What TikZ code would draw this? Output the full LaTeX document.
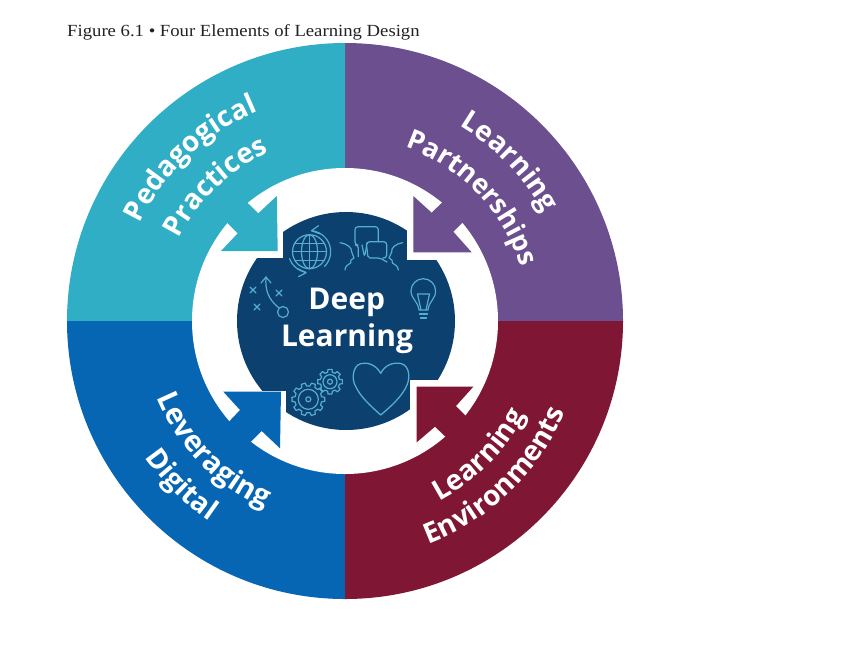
\documentclass[tikz,border=0pt]{standalone}
\usepackage{fontspec}
\setmainfont{Liberation Serif}
\setsansfont{Open Sans}
\usetikzlibrary{decorations.text}
\definecolor{cTeal}{HTML}{30AEC6}
\definecolor{cPurple}{HTML}{6B4F8F}
\definecolor{cBlue}{HTML}{0766B4}
\definecolor{cMaroon}{HTML}{7F1633}
\definecolor{cNavy}{HTML}{0B406F}
\definecolor{cIcon}{HTML}{55AECF}
\definecolor{cTitle}{HTML}{222222}
\newcommand{\arcfont}[1]{\fontsize{#1}{#1}\selectfont\sffamily\bfseries}
\tikzset{
  icon/.style={draw=cIcon,line width=1.2pt,line join=round,line cap=round},
  centertext/.style={text=white,font=\fontsize{30}{30}\selectfont\sffamily\bfseries,anchor=base,inner sep=0pt},
  arctext/.style n args={2}{decorate,decoration={text along path,text color=white,text align=center,text={|\arcfont{#1}|#2}}},
}
\begin{document}
\begin{tikzpicture}[x=1pt,y=-1pt]
\useasboundingbox (0,0) rectangle (850,659);
\fill[white] (0,0) rectangle (850,659);
\node[anchor=base west,inner sep=0pt,text=cTitle,font=\fontsize{17}{17}\selectfont,xscale=1.1] (title) at (67,36.5) {Figure 6.1 • Four Elements of Learning Design};
\begin{scope}[shift={(345,321)},y=1pt]
  \fill[cPurple] (0,0) -- (0,278) arc[start angle=90,end angle=0,radius=278] -- cycle;
  \fill[cTeal] (0,0) -- (-278,0) arc[start angle=180,end angle=90,radius=278] -- cycle;
  \fill[cBlue] (0,0) -- (0,-278) arc[start angle=270,end angle=180,radius=278] -- cycle;
  \fill[cMaroon] (0,0) -- (278,0) arc[start angle=0,end angle=-90,radius=278] -- cycle;
  \fill[white] (0,0) circle[radius=153];
  \fill[cNavy] (1,0) circle[radius=109];
\end{scope}
% notches of the centre shape
\fill[white] (248,223) rectangle (283.3,258);
\fill[white] (406.7,225) rectangle (444,260);
\fill[white] (248,390.7) rectangle (286,420);
\fill[white] (410,380) rectangle (446,420);
% arrows
\fill[cTeal] (276.8,196) -- (277.7,251) -- (221,251) -- (237.7,233.3) -- (202,198) -- (222,178) -- (258.3,213.3) -- cycle;
\fill[cPurple] (413.3,196) -- (413.3,252.3) -- (471.7,252.3) -- (453.3,231.7) -- (488,197) -- (468,177) -- (431.7,212.7) -- cycle;
\fill[cBlue] (223.3,391.7) -- (281,391.7) -- (280,448.3) -- (261.7,431) -- (225,467) -- (205,447) -- (240,410) -- cycle;
\fill[cMaroon] (416.7,386.7) -- (473.3,386.7) -- (456,406) -- (491,441) -- (471,461) -- (435,426.7) -- (416.7,442.3) -- cycle;
% curved labels
\begin{scope}[shift={(345,321)},y=1pt]
  \path[arctext={28}{Pedagogical}] (177:227) arc[start angle=177,end angle=90,radius=227];
  \path[arctext={28}{Practices}] (178:185) arc[start angle=178,end angle=90,radius=185];
  \path[arctext={28}{Learning}] (85:226) arc[start angle=85,end angle=3,radius=226];
  \path[arctext={27}{Partnerships}] (88:184) arc[start angle=88,end angle=0,radius=184];
  \path[arctext={29}{Leveraging}] (181:203) arc[start angle=181,end angle=268,radius=203];
  \path[arctext={28}{Digital}] (185:242) arc[start angle=185,end angle=265,radius=242];
  \path[arctext={28}{Learning}] (-88:203) arc[start angle=-88,end angle=-2,radius=203];
  \path[arctext={28}{Environments}] (-89:238) arc[start angle=-89,end angle=-3,radius=238];
\end{scope}
\node[centertext] (deep) at (346.7,309.3) {Deep};
\node[centertext] (learning) at (347,346.7) {Learning};
% globe
\begin{scope}[shift={(309.5,251.7)},y=1pt,icon]
  \draw (0,0) circle[radius=17];
  \draw (0,0) ellipse[x radius=8,y radius=17];
  \draw (0,-17) -- (0,17) (-17,0) -- (17,0) (-14.5,8.5) -- (14.5,8.5) (-14.5,-8.5) -- (14.5,-8.5);
  \draw (2,21) arc[start angle=85,end angle=-45,radius=21];
  \draw (-20,-7) arc[start angle=200,end angle=260,radius=21];
  \draw (2,21) -- (9,26) (2,21) -- (10,18);
  \draw (-3.5,-21) -- (-11,-25) (-3.5,-21) -- (-12,-17);
\end{scope}
% speech bubbles and faces
\begin{scope}[icon]
  \draw[rounded corners=3pt] (358.3,256.7) -- (358.3,245) -- (355,245) -- (355,226.7) -- (378.3,226.7) -- (378.3,241.7);
  \draw[rounded corners=3pt] (362,245) -- (364.5,257) -- (366.7,246) -- (366.7,241.7) -- (386.7,241.7) -- (386.7,258) -- (383,258);
  \draw[rounded corners=2pt] (366.7,246) -- (368,258) -- (380,258) -- (387,262);
  \draw (340,242.7) .. controls (348,244) and (352,248) .. (351.7,252) -- (354,258) -- (351,260) .. controls (352,266) and (346,262) .. (345,270);
  \draw (402.7,242.7) .. controls (395,244) and (391,248) .. (391.7,252) -- (389,258) -- (392,260) .. controls (391,266) and (397,262) .. (398.3,270);
\end{scope}
% playbook
\begin{scope}[icon]
  \draw (250,287) -- (256,293) (256,287) -- (250,293);
  \draw (276,290) -- (282,296) (282,290) -- (276,296);
  \draw (254,304) -- (260,310) (260,304) -- (254,310);
  \draw (283,312) circle[radius=5.5];
  \draw (279,308) .. controls (268,299) and (265,290) .. (266,277);
  \draw (261,283) -- (266,277) -- (271,283);
\end{scope}
% bulb
\begin{scope}[icon]
  \draw (419,310) .. controls (418,301) and (411,299) .. (411,291) arc[start angle=180,end angle=360,radius=12.3] .. controls (435.6,299) and (429,301) .. (428,310) -- cycle;
  \draw (417.5,294) -- (429.5,294) -- (426,310) (417.5,294) -- (421,310);
  \draw (419.5,314) -- (427.5,314) (420.5,318) -- (426.5,318);
\end{scope}
% gears
\begin{scope}[shift={(308.3,399.3)},y=1pt,icon]
  \draw (0,0) circle[radius=10] (0,0) circle[radius=2.5];
  \foreach \a in {0,36,...,324}
    \draw (\a-7:16.5) -- (\a+7:16.5) -- (\a+11:13.5) -- (\a+25:13.5) -- (\a+29:16.5);
\end{scope}
\begin{scope}[shift={(330,381.7)},y=1pt,icon]
  \draw (0,0) circle[radius=7] (0,0) circle[radius=2.5];
  \foreach \a in {0,45,...,315}
    \draw (\a-9:12.5) -- (\a+9:12.5) -- (\a+14:9.8) -- (\a+31:9.8) -- (\a+36:12.5);
\end{scope}
% heart
\draw[icon,line width=1.3pt] (380.7,373.3) .. controls (376,365) and (368,362) .. (361,363.5) .. controls (352,366) and (352,380) .. (355,385) .. controls (360,397) and (372,407) .. (380.7,415) .. controls (390,407) and (402,397) .. (407,385) .. controls (410,378) and (410,366) .. (401,363.5) .. controls (393,362) and (385,365) .. (380.7,373.3) -- cycle;
\end{tikzpicture}
\end{document}
